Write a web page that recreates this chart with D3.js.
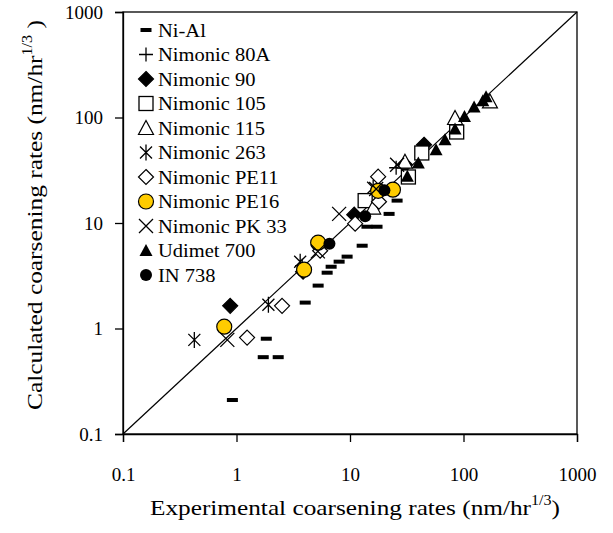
<!DOCTYPE html>
<html>
<head>
<meta charset="utf-8">
<script src="https://cdn.jsdelivr.net/npm/d3@7"></script>
<style>
  body { margin: 0; background: #fff; }
  svg text { font-family: "Liberation Serif", "DejaVu Serif", serif; fill: #000; }
</style>
</head>
<body>
<div id="chart"></div>
<script>
// values: [experimental, calculated]
let niAl = [[0.92, 0.21], [1.83, 0.8], [1.72, 0.535], [2.33, 0.535], [4.03, 1.76], [5.24, 2.55],
  [6.29, 3.38], [6.82, 3.85], [8.02, 4.3], [9.43, 4.8], [12.8, 6.09], [14.1, 9.22], [17.3, 9.22],
  [22.1, 12.2], [26.0, 16.3]]
let nim80A = [[3.79, 3.94], [25.5, 33.4]]
let nim90 = [[0.88, 1.64], [3.86, 3.45], [10.9, 12.0], [30.5, 35.7], [44.9, 55.2]]
let nim105 = [[13.6, 16.3], [32.7, 27.3], [42.9, 46.1], [87.1, 72.9]]
let nim115 = [[16.0, 14.0], [30.5, 38.1], [84.2, 98.9], [171, 142]]
let nim263 = [[0.425, 0.78], [1.91, 1.68], [3.64, 4.3], [16.0, 21.6]]
let pe11 = [[1.24, 0.82], [2.52, 1.64], [5.46, 5.46], [11.1, 9.85], [18.0, 15.9], [17.7, 27.5]]
let pe16 = [[0.78, 1.04], [3.94, 3.61], [5.24, 6.51], [17.7, 20.2], [23.9, 20.7]]
let pk33 = [[0.83, 0.78], [5.21, 5.38], [8.02, 12.2], [17.0, 21.0], [26.0, 35.7]]
let udimet = [[32.0, 27.7], [40.0, 37.0], [57.3, 49.5], [68.7, 61.6], [84.2, 77.8], [102, 102],
  [124, 126], [148, 144], [158, 157]]
let in738 = [[6.59, 6.37], [13.6, 11.6], [20.1, 20.4]]

let ticks = [0.1, 1, 10, 100, 1000]

let series = [
  { name: 'Ni-Al', data: niAl, shape: 'dash' },
  { name: 'Nimonic 80A', data: nim80A, shape: 'plus' },
  { name: 'Nimonic 90', data: nim90, shape: 'diamondFill' },
  { name: 'Nimonic 105', data: nim105, shape: 'square' },
  { name: 'Nimonic 115', data: nim115, shape: 'triangle' },
  { name: 'Nimonic 263', data: nim263, shape: 'star' },
  { name: 'Nimonic PE11', data: pe11, shape: 'diamond' },
  { name: 'Nimonic PE16', data: pe16, shape: 'yellow' },
  { name: 'Nimonic PK 33', data: pk33, shape: 'cross' },
  { name: 'Udimet 700', data: udimet, shape: 'triangleFill' },
  { name: 'IN 738', data: in738, shape: 'dot' }
]

let width = 613
let height = 533
let plot = { left: 123, right: 577, top: 12, bottom: 434 }
let serif = '"Liberation Serif", "DejaVu Serif", serif'

let svg = d3
  .select('#chart')
  .append('svg')
  .attr('width', width)
  .attr('height', height)

let x = d3.scaleLog().domain([0.1, 1000]).range([plot.left, plot.right])
let y = d3.scaleLog().domain([0.1, 1000]).range([plot.bottom, plot.top])

// marker drawing
function drawMarker(g, shape) {
  if (shape === 'dash') {
    g.append('rect').attr('x', -5.5).attr('y', -2).attr('width', 11).attr('height', 4).attr('fill', '#000')
  } else if (shape === 'plus') {
    g.append('path').attr('d', 'M-7,0H7M0,-7V7').attr('stroke', '#000').attr('stroke-width', 1.3).attr('fill', 'none')
  } else if (shape === 'diamondFill' || shape === 'diamond') {
    g.append('path').attr('d', 'M0,-7.5L7.5,0L0,7.5L-7.5,0Z')
      .attr('fill', shape === 'diamond' ? '#fff' : '#000')
      .attr('stroke', '#000').attr('stroke-width', 1.2)
  } else if (shape === 'square') {
    g.append('rect').attr('x', -7).attr('y', -7).attr('width', 14).attr('height', 14)
      .attr('fill', '#fff').attr('stroke', '#000').attr('stroke-width', 1.3)
  } else if (shape === 'triangle') {
    g.append('path').attr('d', 'M0,-7.5L7.5,6.5L-7.5,6.5Z')
      .attr('fill', '#fff').attr('stroke', '#000').attr('stroke-width', 1.2)
  } else if (shape === 'triangleFill') {
    g.append('path').attr('d', 'M0,-6.5L6.5,5.5L-6.5,5.5Z').attr('fill', '#000')
  } else if (shape === 'star') {
    g.append('path').attr('d', 'M-6,-6L6,6M6,-6L-6,6M0,-8V8')
      .attr('stroke', '#000').attr('stroke-width', 1.3).attr('fill', 'none')
  } else if (shape === 'cross') {
    g.append('path').attr('d', 'M-7,-7L7,7M7,-7L-7,7')
      .attr('stroke', '#000').attr('stroke-width', 1.3).attr('fill', 'none')
  } else if (shape === 'yellow') {
    g.append('circle').attr('r', 7.5).attr('fill', '#FFCC00').attr('stroke', '#000').attr('stroke-width', 1.2)
  } else if (shape === 'dot') {
    g.append('circle').attr('r', 6).attr('fill', '#000')
  }
}

// frame
svg
  .append('rect')
  .attr('x', plot.left)
  .attr('y', plot.top)
  .attr('width', plot.right - plot.left)
  .attr('height', plot.bottom - plot.top)
  .attr('fill', 'none')
  .attr('stroke', '#000')
  .attr('stroke-width', 1.3)

// axes
let xAxis = d3.axisBottom(x).tickValues(ticks).tickFormat(d3.format('~g')).tickSize(8).tickPadding(26)
let yAxis = d3.axisLeft(y).tickValues(ticks).tickFormat(d3.format('~g')).tickSize(8).tickPadding(12)

let gx = svg.append('g').attr('transform', `translate(0, ${plot.bottom})`).call(xAxis)
let gy = svg.append('g').attr('transform', `translate(${plot.left}, 0)`).call(yAxis)

;[gx, gy].forEach(g => {
  g.attr('font-family', serif).attr('font-size', 19)
  g.select('.domain').attr('stroke', '#000').attr('stroke-width', 1.3)
  g.selectAll('.tick line').attr('stroke', '#000').attr('stroke-width', 1.3)
  g.selectAll('.tick text').attr('fill', '#000')
})

// 1:1 line
svg
  .append('line')
  .attr('x1', x(0.1))
  .attr('y1', y(0.1))
  .attr('x2', x(1000))
  .attr('y2', y(1000))
  .attr('stroke', '#000')
  .attr('stroke-width', 1.2)

// points
series.forEach(s => {
  svg
    .append('g')
    .selectAll('g')
    .data(s.data)
    .enter()
    .append('g')
    .attr('transform', d => `translate(${x(d[0])}, ${y(d[1])})`)
    .each(function() {
      drawMarker(d3.select(this), s.shape)
    })
})

// legend
let legend = svg.append('g').attr('transform', 'translate(146, 30)')
series.forEach((s, i) => {
  let row = legend.append('g').attr('transform', `translate(0, ${i * 24.5})`)
  drawMarker(row, s.shape)
  row
    .append('text')
    .attr('transform', 'translate(12, 6.5) scale(1.08, 1)')
    .attr('font-size', 19)
    .text(s.name)
})

// axis titles
let xt = svg
  .append('text')
  .attr('x', 150)
  .attr('y', 515)
  .attr('font-size', 22)
  .attr('textLength', 410)
  .attr('lengthAdjust', 'spacingAndGlyphs')
xt.append('tspan').text('Experimental coarsening rates (nm/hr')
xt.append('tspan').attr('font-size', 14).attr('dy', -10).text('1/3')
xt.append('tspan').attr('dy', 10).text(')')

let yt = svg
  .append('text')
  .attr('transform', 'translate(42, 410) rotate(-90)')
  .attr('font-size', 22)
  .attr('textLength', 390)
  .attr('lengthAdjust', 'spacingAndGlyphs')
yt.append('tspan').text('Calculated coarsening rates (nm/hr')
yt.append('tspan').attr('font-size', 14).attr('dy', -10).text('1/3')
yt.append('tspan').attr('dy', 10).text('  )')
</script>
</body>
</html>
